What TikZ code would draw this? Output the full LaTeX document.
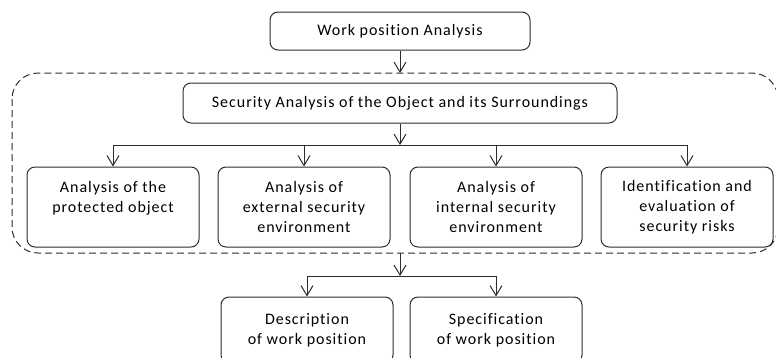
\documentclass[tikz,border=0pt]{standalone}
\usepackage{fontspec}
\setmainfont{Carlito}[LetterSpace=6,Ligatures={NoCommon}]
\usetikzlibrary{arrows.meta}
\definecolor{lgray}{RGB}{45,45,45}

\begin{document}
\begin{tikzpicture}[x=1pt,y=-1pt,
  box/.style={draw=lgray,line width=1pt,rounded corners=8pt,align=center,
    font=\fontsize{16}{20}\selectfont,inner sep=0pt},
  arr/.style={-{Straight Barb[length=10pt,width=12pt]},lgray,line width=1pt}
]
  \useasboundingbox (0,0) rectangle (776,357);

  % dashed frame round the security analysis
  \draw[lgray,line width=1pt,dash pattern=on 7pt off 4pt,rounded corners=26pt]
    (12,73) rectangle (778,253);

  \node[box,minimum width=260pt,minimum height=38pt] (work) at (400,31) {Work position Analysis};
  \node[box,minimum width=434pt,minimum height=40pt] (sec) at (400,103)
    {Security Analysis of the Object and its Surroundings};

  \node[box,minimum width=172pt,minimum height=80pt] (a1) at (113,207) {Analysis of the\\protected object\\\mbox{}};
  \node[box,minimum width=172pt,minimum height=80pt] (a2) at (304,207) {Analysis of\\external security\\environment};
  \node[box,minimum width=172pt,minimum height=80pt] (a3) at (496,207) {Analysis of\\internal security\\environment};
  \node[box,minimum width=172pt,minimum height=80pt] (a4) at (687,207) {Identification and\\evaluation of\\security risks};

  \node[box,minimum width=172pt,minimum height=66pt] (d1) at (307,330) {Description\\of work position};
  \node[box,minimum width=172pt,minimum height=66pt] (d2) at (496,330) {Specification\\of work position};

  \coordinate (fin) at (400,73);
  \coordinate (fout) at (400,253);
  \coordinate (split) at (400,145);
  \coordinate (join) at (400,276);

  % connectors
  \draw[arr] (work) -- (fin);
  \draw[arr] (sec) -- (split);
  \draw[lgray,line width=1pt] (a1.north |- split) -- (a4.north |- split);
  \foreach \n in {a1,a2,a3,a4}
    \draw[arr] (\n.north |- split) -- (\n);

  \draw[arr] (fout) -- (join);
  \draw[lgray,line width=1pt] (d1.north |- join) -- (d2.north |- join);
  \foreach \n in {d1,d2}
    \draw[arr] (\n.north |- join) -- (\n);
\end{tikzpicture}
\end{document}
